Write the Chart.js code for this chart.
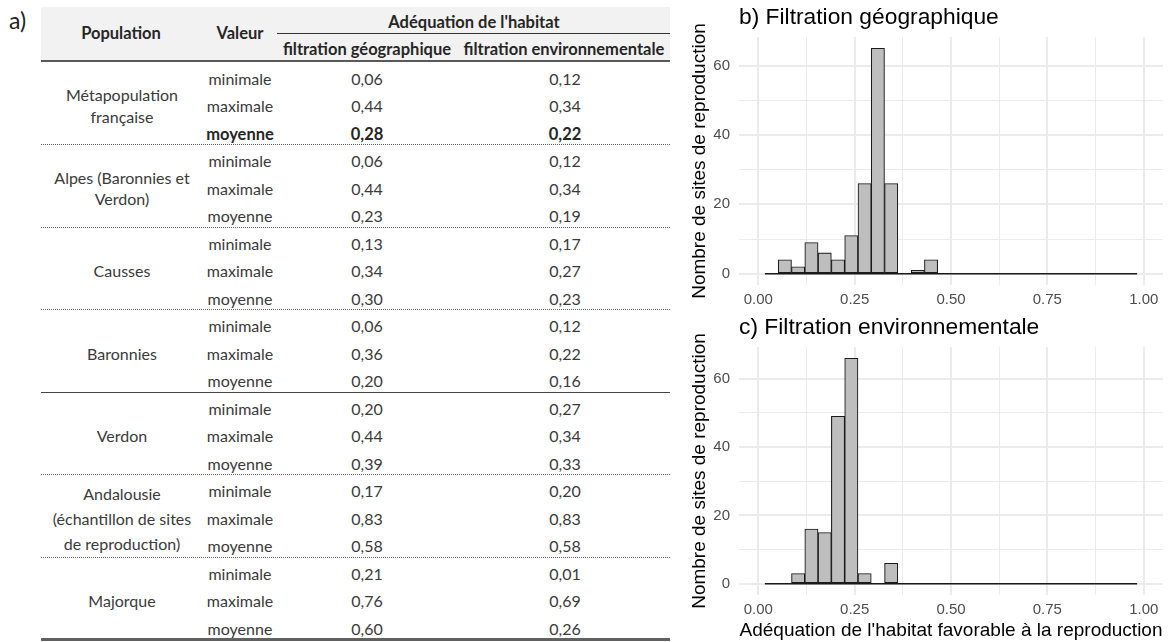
<!DOCTYPE html>
<html lang="fr">
<head>
<meta charset="utf-8">
<title>Adéquation de l'habitat</title>
<script src="https://cdn.jsdelivr.net/npm/chart.js@4/dist/chart.umd.min.js"></script>
<style>
  html, body { margin: 0; padding: 0; background: #fff; }
  #page { position: relative; width: 1169px; height: 642px; overflow: hidden; font-family: Lato, "Open Sans", sans-serif; }
  .t { position: absolute; text-align: center; white-space: nowrap; color: #3a3a3a; font-size: 16px; }
  .h { font-weight: bold; color: #262626; font-size: 16.5px; }
  canvas { position: absolute; }
</style>
</head>
<body>
<div id="page">
  <div class="t" style="left:9px;top:6px;font-size:23px;color:#222;">a)</div>
  <div id="table"></div>
  <canvas id="histGeo" width="481" height="312" style="left:688px;top:0px;"></canvas>
  <canvas id="histEnv" width="481" height="330" style="left:688px;top:312px;"></canvas>
</div>
<script>
// table a)
const populations = [
  'Métapopulation\nfrançaise',
  'Alpes (Baronnies et\nVerdon)',
  'Causses',
  'Baronnies',
  'Verdon',
  'Andalousie\n(échantillon de sites\nde reproduction)',
  'Majorque'
];
const valeurs = ['minimale', 'maximale', 'moyenne'];
const filtrationGeographique = [
  [0.06, 0.44, 0.28],
  [0.06, 0.44, 0.23],
  [0.13, 0.34, 0.30],
  [0.06, 0.36, 0.20],
  [0.20, 0.44, 0.39],
  [0.17, 0.83, 0.58],
  [0.21, 0.76, 0.60]
];
const filtrationEnvironnementale = [
  [0.12, 0.34, 0.22],
  [0.12, 0.34, 0.19],
  [0.17, 0.27, 0.23],
  [0.12, 0.22, 0.16],
  [0.27, 0.34, 0.33],
  [0.20, 0.83, 0.58],
  [0.01, 0.69, 0.26]
];

// histograms b) and c)
const binCenters = [
  0.0345, 0.0690, 0.1034, 0.1379, 0.1724, 0.2069, 0.2414, 0.2759, 0.3103, 0.3448,
  0.3793, 0.4138, 0.4483, 0.4828, 0.5172, 0.5517, 0.5862, 0.6207, 0.6552, 0.6897,
  0.7241, 0.7586, 0.7931, 0.8276, 0.8621, 0.8966, 0.9310, 0.9655
];
const countsGeographique = [
  0, 4, 2, 9, 6, 4, 11, 26, 65, 26, 0, 1, 4, 0, 0, 0, 0, 0, 0, 0, 0, 0, 0, 0, 0, 0, 0, 0
];
const countsEnvironnementale = [
  0, 0, 3, 16, 15, 49, 66, 3, 0, 6, 0, 0, 0, 0, 0, 0, 0, 0, 0, 0, 0, 0, 0, 0, 0, 0, 0, 0
];
const xTicksMajor = [0, 0.25, 0.5, 0.75, 1];
const xTicksMinor = [0.125, 0.375, 0.625, 0.875];
const yTicksMajor = [0, 20, 40, 60];
const yTicksMinor = [10, 30, 50];

// ---- table ----
const table = document.getElementById('table');

function addBox(css) {
  const d = document.createElement('div');
  d.style.cssText = 'position:absolute;' + css;
  table.appendChild(d);
  return d;
}

function addText(text, cx, cy, cls) {
  const d = document.createElement('div');
  d.className = 't ' + (cls || '');
  d.textContent = text;
  d.style.left = (cx - 150) + 'px';
  d.style.width = '300px';
  d.style.top = (cy - 12) + 'px';
  d.style.height = '24px';
  d.style.lineHeight = '24px';
  table.appendChild(d);
  return d;
}

const fmt = (v) => v.toFixed(2).replace('.', ',');

// header
addBox('left:41px;top:7px;width:629px;height:54px;background:#f2f2f2;');
addBox('left:277px;top:33px;width:393px;height:0;border-top:1.5px solid #333;');
addBox('left:41px;top:60px;width:629px;height:0;border-top:2px solid #595959;');
addText("Adéquation de l'habitat", 474, 22, 'h');
addText('Population', 121, 33, 'h');
addText('Valeur', 240, 33, 'h');
addText('filtration géographique', 367, 49, 'h');
addText('filtration environnementale', 564, 49, 'h');

// body
const rowTop = 61.5;
const rowH = 27.5;
populations.forEach((pop, g) => {
  const groupTop = rowTop + g * 3 * rowH;
  const lines = pop.split('\n').length;
  const lh = lines === 3 ? 25 : 21.5;
  const p = addBox(
    'left:41px;width:162px;top:' + (groupTop + 3) + 'px;height:' + (3 * rowH) + 'px;' +
    'display:flex;align-items:center;justify-content:center;text-align:center;' +
    'white-space:pre-line;color:#3a3a3a;font-size:16px;line-height:' + lh + 'px;'
  );
  p.textContent = pop;

  valeurs.forEach((val, r) => {
    const cy = groupTop + r * rowH + rowH / 2 + 3.5;
    const bold = g === 0 && r === 2 ? 'h' : '';
    addText(val, 240, cy, bold);
    addText(fmt(filtrationGeographique[g][r]), 367, cy, bold);
    addText(fmt(filtrationEnvironnementale[g][r]), 565, cy, bold);
  });

  const sepY = groupTop + 3 * rowH;
  if (g === populations.length - 1) {
    addBox('left:41px;width:629px;top:' + (sepY - 1) + 'px;height:0;border-top:3px solid #616161;');
  } else if (g === 3) {
    addBox('left:41px;width:629px;top:' + sepY + 'px;height:0;border-top:1px solid #444;');
  } else {
    addBox('left:41px;width:629px;top:' + sepY + 'px;height:0;border-top:1px dotted #666;');
  }
});

// ---- histograms ----
Chart.defaults.font.family = '"Liberation Sans", Arial, sans-serif';

const panelTitle = {
  id: 'panelTitle',
  afterDraw(chart, args, opts) {
    const ctx = chart.ctx;
    ctx.save();
    ctx.font = opts.size + 'px "Liberation Sans", Arial, sans-serif';
    ctx.fillStyle = '#000';
    ctx.textBaseline = 'alphabetic';
    ctx.textAlign = 'left';
    ctx.fillText(opts.text, chart.chartArea.left, opts.y);
    ctx.restore();
  }
};

function makeHist(id, title, counts, yMin, yMax, layout) {
  const half = (binCenters[1] - binCenters[0]) / 2;
  const last = binCenters.length - 1;
  const xTicks = [...xTicksMajor, ...xTicksMinor].sort((a, b) => a - b);
  const yTicks = [...yTicksMajor, ...yTicksMinor].sort((a, b) => a - b);

  new Chart(document.getElementById(id), {
    type: 'bar',
    data: {
      datasets: [
        {
          type: 'bar',
          data: binCenters.map((x, i) => ({ x: x, y: counts[i] })),
          backgroundColor: '#bebebe',
          borderColor: '#1a1a1a',
          borderWidth: 1.1,
          borderSkipped: false,
          barPercentage: 1,
          categoryPercentage: 1,
          order: 0,
        },
        {
          type: 'line',
          data: [
            { x: binCenters[0] - half, y: 0 },
            { x: binCenters[last] + half, y: 0 },
          ],
          borderColor: '#1a1a1a',
          borderWidth: 1.5,
          pointRadius: 0,
          order: 1,
        },
      ],
    },
    options: {
      responsive: false,
      animation: false,
      events: [],
      layout: { padding: { top: layout.top, right: 6, left: 0, bottom: 0 } },
      plugins: {
        legend: { display: false },
        tooltip: { enabled: false },
        panelTitle: { text: title, y: layout.titleY, size: 22.8 },
      },
      scales: {
        x: {
          type: 'linear',
          min: -0.05,
          max: 1.05,
          offset: false,
          afterBuildTicks: (s) => { s.ticks = xTicks.map((v) => ({ value: v })); },
          afterFit: (s) => { s.height = layout.xHeight; },
          ticks: {
            autoSkip: false,
            maxRotation: 0,
            padding: 6,
            color: '#4d4d4d',
            font: { size: 15 },
            callback: (v) => (xTicksMajor.includes(v) ? v.toFixed(2) : ''),
          },
          grid: {
            offset: false,
            drawTicks: false,
            color: '#ebebeb',
            lineWidth: (c) => (c.tick && xTicksMajor.includes(c.tick.value) ? 2 : 1),
          },
          border: { display: false },
          title: {
            display: !!layout.xTitle,
            text: layout.xTitle || '',
            color: '#000',
            font: { size: 19 },
            padding: { top: 0, bottom: 0 },
          },
        },
        y: {
          min: yMin,
          max: yMax,
          afterBuildTicks: (s) => { s.ticks = yTicks.map((v) => ({ value: v })); },
          afterFit: (s) => { s.width = 51; },
          ticks: {
            padding: 9,
            color: '#4d4d4d',
            font: { size: 15 },
            callback: (v) => (yTicksMajor.includes(v) ? String(v) : ''),
          },
          grid: {
            drawTicks: false,
            color: '#ebebeb',
            lineWidth: (c) => (c.tick && yTicksMajor.includes(c.tick.value) ? 2 : 1),
          },
          border: { display: false },
          title: {
            display: true,
            text: 'Nombre de sites de reproduction',
            color: '#000',
            font: { size: 19 },
            padding: { top: 0, bottom: 0 },
          },
        },
      },
    },
    plugins: [panelTitle],
  });
}

makeHist('histGeo', 'b) Filtration géographique', countsGeographique, -3.25, 68.25,
  { top: 37, titleY: 24, xHeight: 27 });
makeHist('histEnv', 'c) Filtration environnementale', countsEnvironnementale, -3.3, 69.3,
  { top: 35, titleY: 22, xHeight: 47, xTitle: "Adéquation de l'habitat favorable à la reproduction" });
</script>
</body>
</html>
